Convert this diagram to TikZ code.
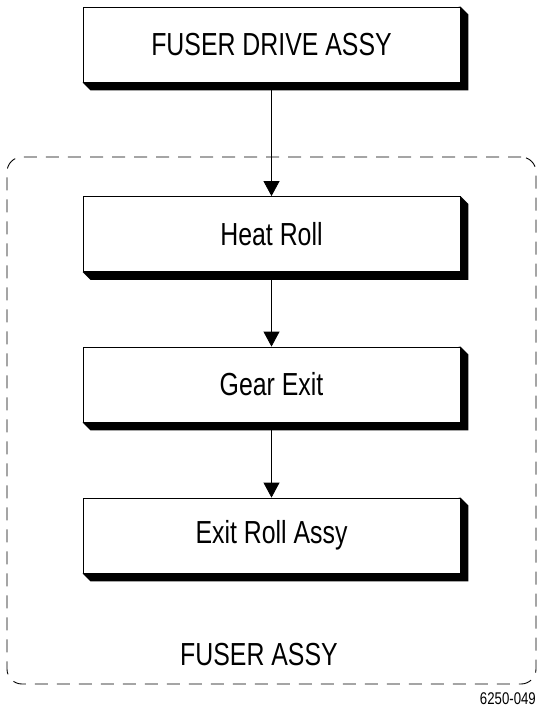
\documentclass[tikz,border=0pt]{standalone}
\usepackage{fontspec}
\setmainfont{Liberation Sans}[FakeStretch=0.78]
\usetikzlibrary{arrows.meta,calc,backgrounds}

\tikzset{
    blockbox/.style={draw, fill=white, line width=0.8bp, minimum width=377bp,
        minimum height=75bp, inner sep=0pt, font=\fontsize{32}{36}\selectfont},
    groupbox/.style={draw, dash pattern=on 13bp off 9bp, line width=0.9bp,
        rounded corners=15bp, minimum width=529bp, minimum height=527bp, inner sep=0pt},
    flowarrow/.style={line width=0.8bp, -{Triangle[length=15bp, width=16bp]}}
}

\begin{document}
\begin{tikzpicture}[x=1bp, y=-1bp]
                \useasboundingbox (0,0) rectangle (538,711);

                % Dashed frame (Fuser assy)
                \node [groupbox] (fuser) at (271.5,420.5) {};
                \node [font=\fontsize{32}{36}\selectfont] (fuserlabel) at (259,655) {FUSER ASSY};

                % Boxes
                \node [blockbox] (drive) at (271.5,44.5) {FUSER DRIVE ASSY};
                \node [blockbox] (heat) at (271.5,234) {Heat Roll};
                \node [blockbox] (gear) at (271.5,384.5) {Gear Exit};
                \node [blockbox] (exit) at (271.5,535.5) {Exit Roll Assy};

                % Solid shadows, behind the boxes
                \begin{scope}[on background layer]
                    \foreach \n in {drive, heat, gear, exit}
                        \fill [black] (\n.south west) -- ++(8,8) -| ($(\n.north east)+(8,8)$) -- (\n.north east) -- cycle;
                \end{scope}

                % Arrows
                \draw [flowarrow] (drive.south) -- (heat.north);
                \draw [flowarrow] (heat.south) -- (gear.north);
                \draw [flowarrow] (gear.south) -- (exit.north);

                % Figure number
                \node [anchor=east, inner sep=0pt, font=\fontsize{17}{20}\selectfont] (figno) at (536,699) {6250-049};
            \end{tikzpicture}
\end{document}
